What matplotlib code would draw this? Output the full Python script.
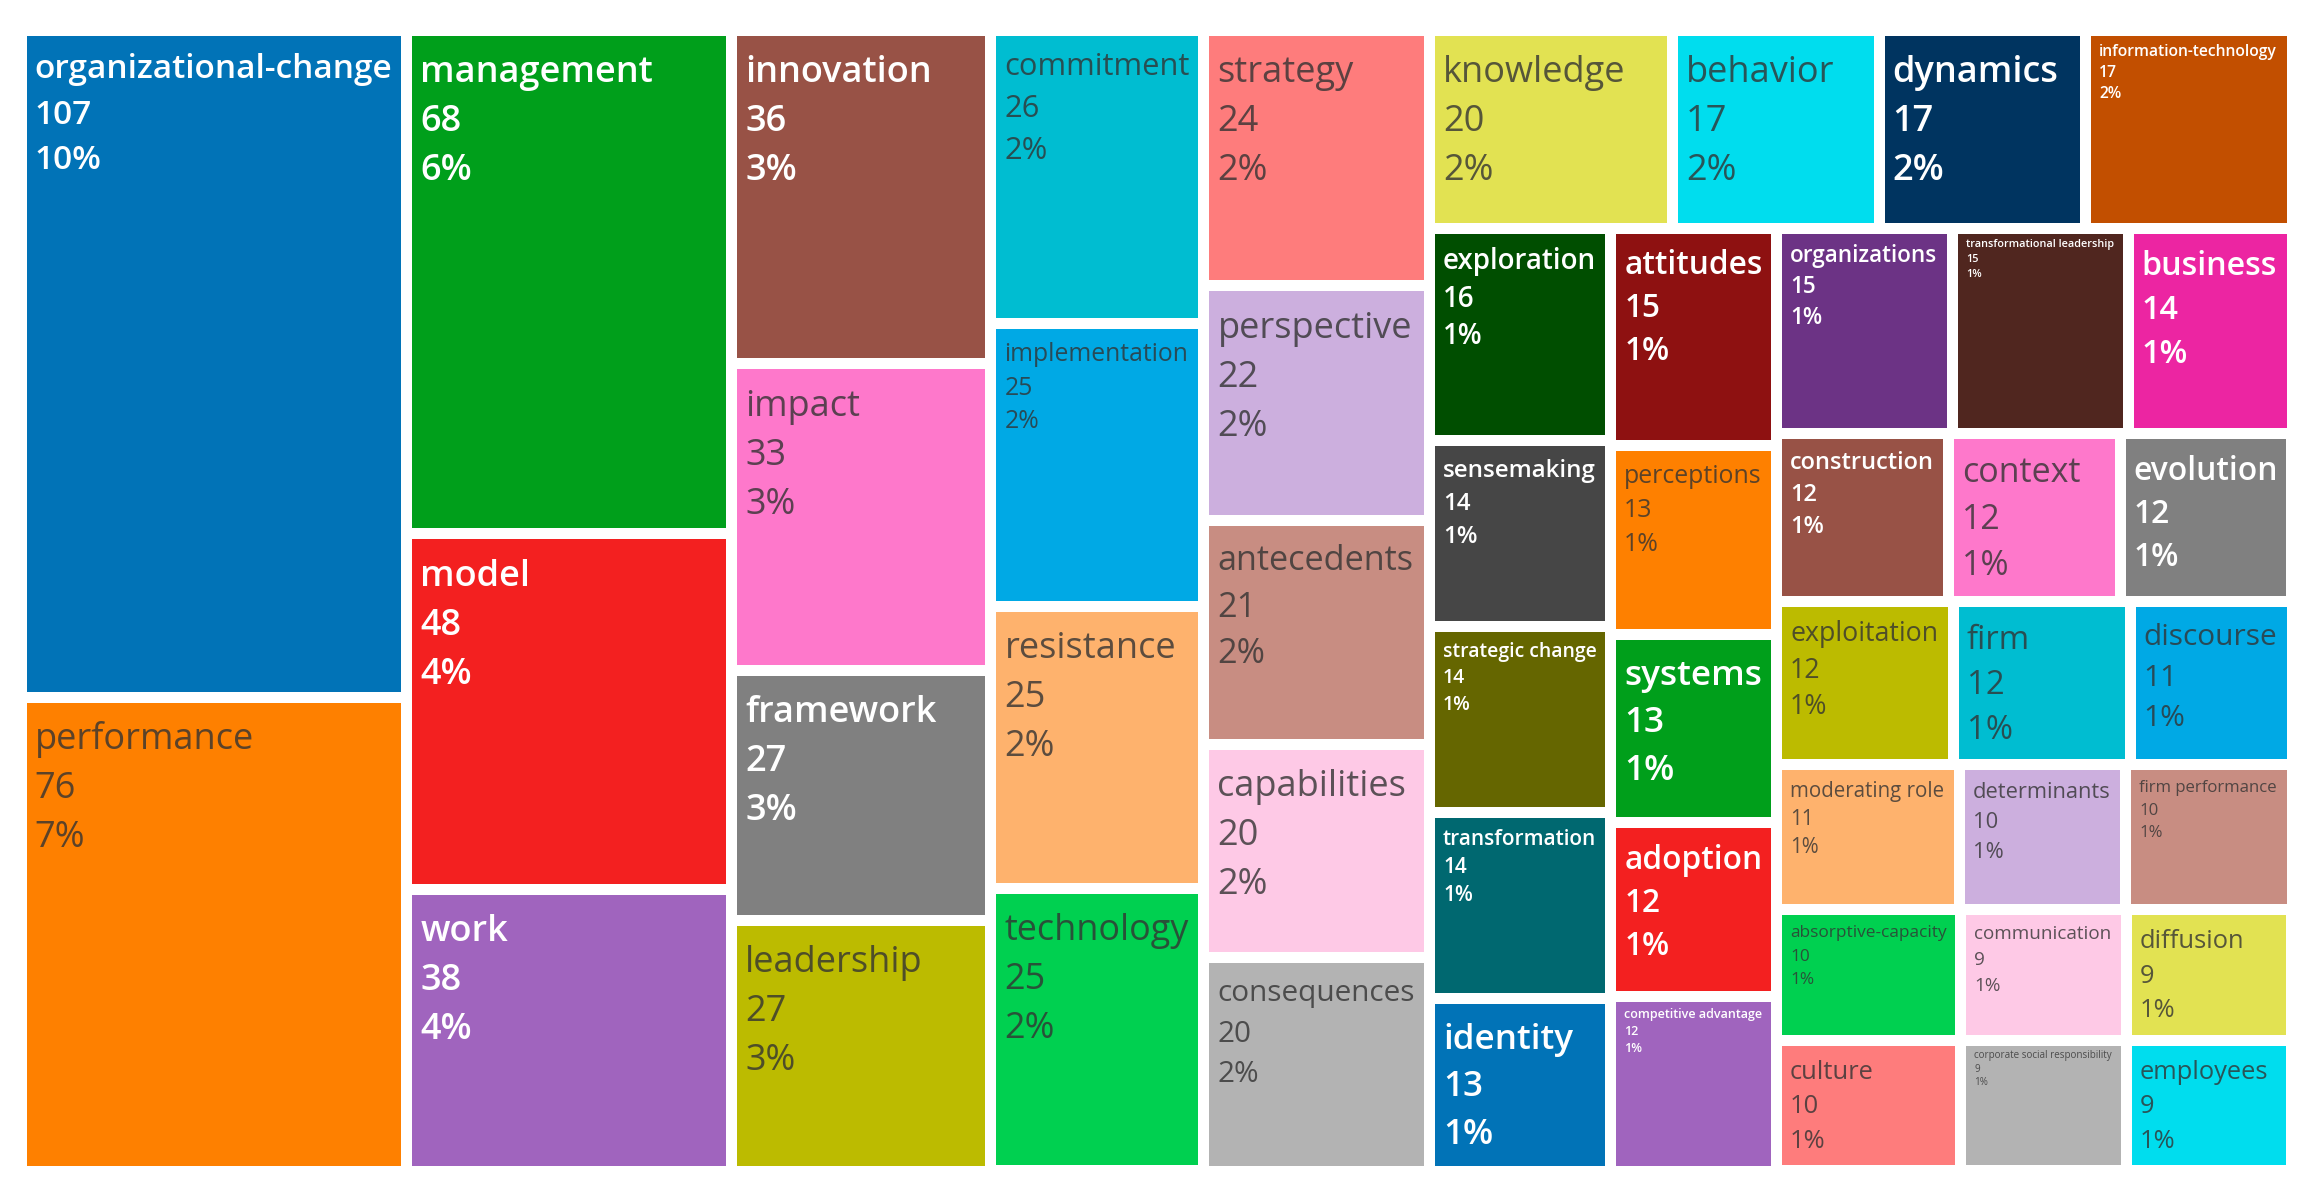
import matplotlib
matplotlib.use("Agg")
import matplotlib.pyplot as plt
from matplotlib.patches import Rectangle

# keyword counts, in the order the treemap places them
names = ["organizational-change", "performance",
         "management", "model", "work",
         "innovation", "impact", "framework", "leadership",
         "commitment", "implementation", "resistance", "technology",
         "strategy", "perspective", "antecedents", "capabilities", "consequences",
         "knowledge", "behavior", "dynamics", "information-technology",
         "exploration", "sensemaking", "strategic change", "transformation", "identity",
         "attitudes", "perceptions", "systems", "adoption", "competitive advantage",
         "organizations", "transformational leadership", "business",
         "construction", "context", "evolution",
         "exploitation", "firm", "discourse",
         "moderating role", "determinants", "firm performance",
         "absorptive-capacity", "communication", "diffusion",
         "culture", "corporate social responsibility", "employees"]
counts = [107, 76,
          68, 48, 38,
          36, 33, 27, 27,
          26, 25, 25, 25,
          24, 22, 21, 20, 20,
          20, 17, 17, 17,
          16, 14, 14, 14, 13,
          15, 13, 13, 12, 12,
          15, 15, 14,
          12, 12, 12,
          12, 12, 11,
          11, 10, 10,
          10, 9, 9,
          10, 9, 9]
# strips of the layout: (number of items, 'v' = column, 'h' = row)
strips = [(2, 'v'), (3, 'v'), (4, 'v'), (4, 'v'), (5, 'v'), (4, 'h'),
          (5, 'v'), (5, 'v'), (3, 'h'), (3, 'h'), (3, 'h'), (3, 'h'), (3, 'h'), (3, 'h')]
colors = ["#0173B7", "#FE8000",
          "#009F1B", "#F32020", "#A064BE",
          "#985246", "#FE78CB", "#808080", "#BCBB00",
          "#00BDD1", "#00A9E5", "#FEB26D", "#00D050",
          "#FE7C7C", "#CCAFDE", "#C88D82", "#FEC9E6", "#B3B3B3",
          "#E2E252", "#00DDEE", "#003460", "#C24F00",
          "#004E00", "#464646", "#656600", "#006870", "#0173B7",
          "#8E1111", "#FE8000", "#009F1B", "#F32020", "#A064BE",
          "#6C3385", "#50261F", "#EC25A2",
          "#985246", "#FE78CB", "#808080",
          "#BCBB00", "#00BDD1", "#00A9E5",
          "#FEB26D", "#CCAFDE", "#C88D82",
          "#00D050", "#FEC9E6", "#E2E252",
          "#FE7C7C", "#B3B3B3", "#00DDEE"]
white_text = {"organizational-change", "management", "model", "work", "innovation",
              "framework", "dynamics", "information-technology", "exploration",
              "sensemaking", "strategic change", "transformation", "identity",
              "attitudes", "systems", "adoption", "competitive advantage",
              "organizations", "transformational leadership", "business",
              "construction", "evolution"}


def layout(values, strips, x0, y0, w, h):
    scale = w * h / float(sum(values))
    rects = []
    i = 0
    for n, orient in strips:
        grp = values[i:i + n]
        s = sum(grp) * scale
        if orient == 'v':
            sw = s / h
            yy = y0
            for v in grp:
                hh = v * scale / sw
                rects.append((x0, yy, sw, hh))
                yy += hh
            x0 += sw
            w -= sw
        else:
            sh = s / w
            xx = x0
            for v in grp:
                ww = v * scale / sh
                rects.append((xx, y0, ww, sh))
                xx += ww
            y0 += sh
            h -= sh
        i += n
    return rects


W, H = 2313, 1192
L, R, T, B = 21, 2292, 30, 1171
fig = plt.figure(figsize=(W / 100, H / 100), dpi=100)
ax = fig.add_axes([L / W, 1 - B / H, (R - L) / W, (B - T) / H])
aw, ah = R - L, B - T
ax.set_xlim(0, aw)
ax.set_ylim(ah, 0)
ax.axis('off')

gap = 11
total = sum(counts)
rects = layout(counts, strips, 0, 0, aw, ah)
renderer = fig.canvas.get_renderer()
max_fs = 26.0

for name, val, col, (x, y, w, h) in zip(names, counts, colors, rects):
    x1, y1, w1, h1 = x + gap / 2, y + gap / 2, w - gap, h - gap
    ax.add_patch(Rectangle((x1, y1), w1, h1, facecolor=col, edgecolor='none'))
    pct = int(val * 100.0 / total + 0.5)
    lines = [name, str(val), "%d%%" % pct]
    if name in white_text:
        tc, alpha, weight = 'white', 1.0, 'semibold'
    else:
        tc, alpha, weight = '#333333', 0.8, 'normal'
    # shrink font so the widest line fits the tile (width and height)
    widest = 0
    for s in lines:
        t = ax.text(0, 0, s, fontsize=max_fs, family='Open Sans', fontweight=weight)
        widest = max(widest, t.get_window_extent(renderer).width)
        t.remove()
    avail = w1 - 17
    fs = min(max_fs, max_fs * avail / widest)
    fs = min(fs, (h1 - 6) / 4.45 * 72 / 100.0)
    px = fs * 100 / 72.0
    for k, s in enumerate(lines):
        ax.text(x1 + 8, y1 + 1.28 * px + 1.36 * px * k, s, fontsize=fs,
                family='Open Sans', fontweight=weight, color=tc, alpha=alpha,
                ha='left', va='baseline')

fig.savefig("out.png", dpi=100, facecolor='white')
